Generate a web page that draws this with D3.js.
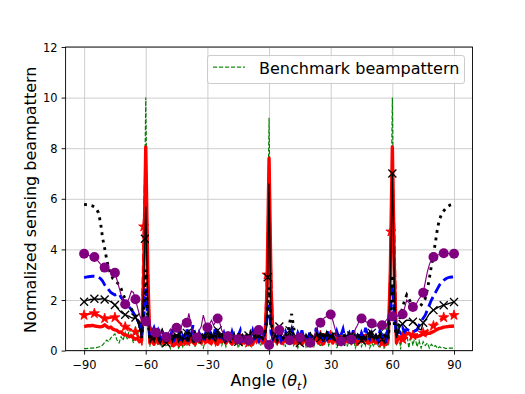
<!DOCTYPE html>
<html>
<head>
<meta charset="utf-8">
<script src="https://cdn.jsdelivr.net/npm/d3@7"></script>
<style>
  body { margin: 0; background: #fff; }
  svg { display: block; font-family: "DejaVu Sans", sans-serif; }
</style>
</head>
<body>
<svg width="525" height="394"></svg>
<script>
// angle grid, one point per degree
const angles = d3.range(-90, 91, 1)

// green dashed - benchmark
const benchmark = [
  0.08,0.08,0.09,0.1,0.1,0.11,0.12,0.14,0.16,0.22,
  0.32,0.42,0.35,0.5,0.58,0.66,0.42,0.3,0.55,0.4,
  0.72,0.45,0.85,0.6,0.3,0.95,0.5,1.15,0.2,3.2,
  10.0,3.2,0.15,0.9,0.3,0.6,0.2,0.5,0.1,0.35,
  0.15,0.3,0.08,0.4,0.2,0.3,0.1,0.35,0.15,0.5,
  0.2,0.6,0.3,0.45,0.15,0.5,0.25,0.3,0.1,0.4,
  0.3,0.55,0.2,0.6,0.35,0.3,0.5,0.2,0.45,0.15,
  0.4,0.3,0.6,0.25,0.5,0.1,0.35,0.2,0.5,0.3,
  0.2,0.45,0.15,0.5,0.3,0.6,0.2,0.7,0.3,2.8,
  9.2,2.8,0.3,0.7,0.2,0.6,0.3,0.5,0.15,0.45,
  0.3,0.55,0.2,0.4,0.1,0.35,0.25,0.5,0.15,0.4,
  0.3,0.6,0.2,0.45,0.35,0.15,0.5,0.3,0.6,0.2,
  0.4,0.25,0.55,0.1,0.35,0.2,0.5,0.3,0.15,0.4,
  0.2,0.5,0.1,0.35,0.3,0.15,0.45,0.2,0.55,0.1,
  0.3,0.15,0.6,0.2,0.1,1.0,0.05,0.9,0.2,3.2,
  10.0,3.2,0.2,1.1,0.05,0.8,0.3,0.7,0.1,0.6,
  0.2,0.55,0.15,0.4,0.1,0.35,0.2,0.3,0.1,0.25,
  0.15,0.2,0.08,0.15,0.1,0.12,0.08,0.1,0.1,0.1,
  0.1
]

// thick red solid
const redSolid = [
  0.95,0.97,0.98,0.98,1.0,0.98,0.96,0.95,0.94,0.96,
  1.02,0.95,0.9,0.93,0.85,0.82,0.8,0.72,0.74,0.65,
  0.62,0.6,0.55,0.58,0.5,0.45,0.48,0.35,0.4,3.0,
  8.05,3.0,0.3,0.45,0.25,0.5,0.3,0.55,0.35,0.25,
  0.45,0.3,0.5,0.2,0.4,0.35,0.55,0.25,0.45,0.3,
  0.5,0.3,0.6,0.35,0.25,0.55,0.4,0.3,0.5,0.35,
  0.45,0.6,0.3,0.5,0.4,0.25,0.55,0.35,0.45,0.3,
  0.5,0.35,0.25,0.45,0.3,0.55,0.4,0.6,0.3,0.45,
  0.35,0.5,0.25,0.45,0.6,0.35,0.5,0.3,0.4,2.4,
  7.6,2.4,0.4,0.5,0.35,0.6,0.3,0.45,0.55,0.35,
  0.4,0.6,0.3,0.5,0.35,0.45,0.25,0.55,0.4,0.3,
  0.5,0.35,0.45,0.6,0.3,0.5,0.25,0.4,0.55,0.35,
  0.45,0.3,0.5,0.35,0.6,0.4,0.3,0.55,0.35,0.45,
  0.3,0.5,0.4,0.25,0.55,0.35,0.45,0.6,0.3,0.5,
  0.35,0.45,0.3,0.55,0.4,0.3,0.5,0.25,0.45,3.0,
  8.05,3.0,0.3,0.55,0.45,0.6,0.75,0.65,0.7,0.6,
  0.6,0.55,0.55,0.58,0.62,0.65,0.62,0.68,0.68,0.72,
  0.75,0.8,0.85,0.88,0.9,0.93,0.94,0.95,0.96,0.96,
  0.97
]

// red dashed with stars
const redDashed = [
  1.4,1.42,1.44,1.46,1.47,1.47,1.44,1.4,1.36,1.3,
  1.27,1.26,1.28,1.3,1.32,1.31,1.22,1.12,1.05,1.0,
  0.94,0.9,0.86,0.82,0.78,0.74,0.6,0.5,0.35,4.9,
  7.8,3.4,0.35,0.5,0.3,0.55,0.4,0.3,0.5,0.35,
  0.5,0.35,0.25,0.45,0.6,0.3,0.4,0.55,0.3,0.45,
  0.35,0.55,0.4,0.3,0.6,0.45,0.25,0.5,0.35,0.55,
  0.4,0.3,0.55,0.45,0.25,0.5,0.35,0.6,0.4,0.3,
  0.55,0.4,0.3,0.5,0.35,0.45,0.6,0.3,0.5,0.4,
  0.3,0.55,0.4,0.6,0.35,0.5,0.3,0.45,0.55,3.0,
  7.2,3.0,0.45,0.35,0.55,0.4,0.6,0.3,0.5,0.4,
  0.55,0.35,0.45,0.3,0.6,0.4,0.5,0.35,0.55,0.45,
  0.3,0.5,0.4,0.55,0.35,0.6,0.45,0.3,0.5,0.4,
  0.6,0.35,0.45,0.55,0.3,0.5,0.4,0.6,0.45,0.35,
  0.5,0.4,0.6,0.3,0.45,0.55,0.35,0.5,0.4,0.3,
  0.45,0.55,0.35,0.5,0.4,0.3,0.55,0.45,0.35,3.4,
  7.8,4.6,0.4,0.5,0.55,0.45,0.6,0.5,0.55,0.6,
  0.6,0.62,0.62,0.65,0.68,0.7,0.75,0.8,0.86,0.92,
  0.98,1.05,1.12,1.2,1.26,1.31,1.34,1.36,1.38,1.39,
  1.4
]
const starAngles = [-90,-85,-80,-75,-70,-65,-61,-55,-50,-45,-40,-35,-30,-25,-20,-15,-10,-5,-1,
  5,10,15,20,25,30,35,40,45,50,55,59.3,65,70,75,80,85,90]
const starValues = [1.4,1.47,1.27,1.31,0.94,0.74,4.9,0.55,0.5,0.3,0.35,0.45,0.4,0.5,0.55,0.45,0.3,0.5,3.0,
  0.4,0.55,0.4,0.3,0.6,0.6,0.5,0.5,0.55,0.45,0.3,4.7,0.45,0.6,0.7,0.98,1.31,1.4]

// blue thick dashed
const blueDashed = [
  2.88,2.9,2.92,2.93,2.94,2.94,2.93,2.9,2.85,2.75,
  2.6,2.5,2.4,2.3,2.25,2.2,2.22,2.25,2.1,2.0,
  1.92,1.82,1.72,1.62,1.5,1.35,1.2,1.05,0.6,1.2,
  2.45,1.2,0.5,0.7,0.9,0.6,0.8,0.5,0.75,0.6,
  0.6,0.4,0.55,0.85,0.45,0.6,0.8,0.35,0.6,0.5,
  0.85,0.45,0.55,1.0,0.5,0.4,0.7,0.5,0.35,0.65,
  0.5,0.8,0.4,0.55,0.95,0.45,0.6,0.5,0.7,0.4,
  0.55,0.45,0.75,0.5,0.35,0.6,0.8,0.4,0.5,0.7,
  0.45,0.55,0.8,0.5,0.6,0.4,0.75,0.5,0.85,1.3,
  1.8,0.7,0.45,0.6,0.5,0.8,0.4,0.55,0.75,0.5,
  0.6,0.85,0.5,0.4,0.7,0.5,0.8,0.45,0.55,0.5,
  0.75,0.4,0.55,0.9,0.5,0.6,0.45,0.7,0.5,0.8,
  0.5,0.55,0.4,0.75,0.5,0.6,0.85,0.45,0.55,0.7,
  0.45,0.8,0.5,0.6,0.4,0.7,0.5,0.9,0.55,0.45,
  0.7,0.5,0.6,0.4,0.8,0.55,0.6,0.45,1.0,1.6,
  2.6,1.4,0.6,0.8,0.7,0.9,0.75,0.85,0.8,0.75,
  0.74,0.78,0.82,1.0,1.15,1.28,1.4,1.6,1.8,2.0,
  2.15,2.3,2.45,2.6,2.7,2.78,2.84,2.88,2.9,2.91,
  2.92
]

// black dotted
const blackDotted = [
  5.78,5.77,5.76,5.74,5.72,5.68,5.6,5.45,5.05,4.45,
  4.05,3.6,3.25,3.02,2.85,2.78,2.7,2.6,2.45,2.22,
  2.05,1.92,1.8,1.65,1.5,1.38,1.25,1.07,0.5,1.5,
  3.2,1.2,0.4,0.6,0.45,0.7,0.4,0.55,0.75,0.45,
  0.6,0.4,0.65,0.5,0.7,0.45,0.55,0.8,0.45,0.6,
  0.45,0.7,0.55,0.4,0.65,0.5,0.6,0.75,0.45,0.55,
  0.65,0.5,0.4,0.7,0.55,0.45,0.6,0.5,0.75,0.5,
  0.6,0.4,0.65,0.5,0.55,0.7,0.45,0.6,0.5,0.6,
  0.4,0.7,0.5,0.6,0.45,0.65,0.55,0.5,0.7,1.2,
  2.5,1.2,0.5,0.65,0.4,0.6,0.7,0.5,0.65,0.55,
  1.1,1.45,0.9,0.5,0.65,0.45,0.6,0.7,0.5,0.55,
  0.65,0.45,0.55,0.7,0.5,0.65,0.5,0.75,0.45,0.6,
  0.7,0.5,0.55,0.65,0.45,0.6,0.5,0.7,0.5,0.6,
  0.45,0.65,0.55,0.5,0.7,0.5,0.6,0.45,0.6,0.7,
  0.5,0.65,0.55,0.45,0.65,0.5,0.6,0.7,0.5,1.4,
  3.0,1.0,0.6,1.0,1.4,1.7,2.0,2.2,2.05,1.9,
  1.8,1.75,1.72,1.73,1.8,1.92,2.05,2.4,2.85,3.35,
  3.8,4.3,4.85,5.2,5.4,5.52,5.62,5.7,5.75,5.77,
  5.78
]

// black solid with x markers
const blackSolid = [
  1.93,1.97,2.0,2.02,2.03,2.05,2.04,2.03,2.04,2.05,
  2.02,2.0,1.97,1.93,1.87,1.8,1.7,1.6,1.52,1.46,
  1.42,1.38,1.35,1.3,1.28,1.31,1.15,0.9,0.5,2.5,
  5.7,1.8,0.3,0.5,0.35,0.7,0.45,0.25,0.5,0.35,
  0.3,0.45,0.6,0.35,0.65,0.6,0.35,0.55,0.4,0.7,
  0.7,0.4,0.65,0.45,0.75,0.45,0.55,0.4,0.6,0.45,
  0.75,0.4,0.7,0.5,0.35,0.8,0.5,0.65,0.4,0.55,
  0.45,0.6,0.45,0.7,0.4,0.35,0.5,0.65,0.45,0.6,
  0.6,0.65,0.4,0.55,0.7,0.6,0.55,0.45,0.6,1.0,
  6.6,1.0,0.4,0.65,0.5,0.95,0.55,0.45,0.7,0.5,
  0.8,0.45,0.7,0.5,0.35,0.3,0.55,0.4,0.65,0.5,
  0.4,0.6,0.45,0.7,0.5,0.5,0.65,0.45,0.75,0.55,
  0.55,0.7,0.45,0.35,0.55,0.35,0.5,0.65,0.45,0.7,
  0.6,0.55,0.4,0.65,0.5,0.4,0.6,0.45,0.7,0.45,
  0.7,0.4,0.65,0.5,0.6,0.45,0.3,0.6,0.5,2.5,
  7.0,2.5,0.5,0.8,1.0,1.05,1.15,1.2,1.2,1.18,
  1.14,1.1,1.0,0.85,0.82,1.1,1.2,1.32,1.45,1.55,
  1.6,1.65,1.7,1.74,1.77,1.79,1.82,1.85,1.88,1.9,
  1.92
]
const crossAngles = [-90,-85,-80,-75,-70,-65,-60.4,-55,-50,-45,-40,-35,-30,-25,-20,-15,-10,-5,-0.66,
  5,10,15,20,25,30,35,40,45,50,55,60,65,70,75,80,85,90]
const crossValues = [1.93,2.05,2.02,1.8,1.42,1.31,4.42,0.7,0.3,0.6,0.7,0.45,0.75,0.8,0.45,0.35,0.6,0.6,2.9,
  0.95,0.8,0.3,0.4,0.5,0.55,0.35,0.6,0.4,0.7,0.45,7.0,1.05,1.14,1.1,1.6,1.79,1.92]

// purple thin line with circles every 5 degrees
const purple = [
  3.83,3.8,3.77,3.74,3.72,3.7,3.62,3.52,3.42,3.35,
  3.28,3.24,3.2,3.16,3.12,3.08,2.8,2.5,2.2,1.95,
  1.83,1.9,2.1,2.35,2.3,2.03,1.7,1.4,1.2,1.15,
  1.16,0.95,1.1,0.8,0.9,0.71,0.8,0.6,0.75,0.65,
  0.54,0.7,0.85,0.65,0.8,0.9,1.0,0.8,1.15,0.95,
  1.1,1.47,1.0,0.7,0.6,0.52,0.8,0.95,1.4,1.1,
  0.91,1.05,1.2,1.0,1.15,1.27,1.1,0.8,0.65,0.7,
  0.57,0.65,0.55,0.6,0.5,0.45,0.55,0.5,0.6,0.45,
  0.41,0.55,0.7,0.65,0.75,0.81,0.7,0.6,0.5,0.4,
  0.22,0.45,0.6,0.75,0.7,0.81,0.7,0.6,0.55,0.5,
  0.41,0.5,0.6,0.55,0.65,0.52,0.45,0.5,0.4,0.35,
  0.31,0.45,0.6,0.85,1.0,1.1,1.2,1.3,1.35,1.4,
  1.43,1.2,0.9,0.6,0.45,0.37,0.45,0.5,0.55,0.5,
  0.44,0.6,0.85,1.0,1.2,1.27,1.2,1.15,1.1,1.1,
  1.07,1.0,0.95,1.05,1.0,1.0,1.1,1.2,1.3,1.35,
  1.36,1.3,1.35,1.4,1.45,1.44,1.7,2.0,1.9,1.8,
  1.72,1.8,1.9,2.05,2.15,2.29,2.7,3.1,3.4,3.6,
  3.7,3.75,3.78,3.8,3.83,3.85,3.85,3.84,3.84,3.83,
  3.83
]

const xTicks = [-90, -60, -30, 0, 30, 60, 90]
const yTicks = [0, 2, 4, 6, 8, 10, 12]

const svg = d3.select("svg")
const m = { left: 65.6, right: 472.5, top: 47, bottom: 350.6 }

const x = d3.scaleLinear().domain([-99, 99]).range([m.left, m.right])
const y = d3.scaleLinear().domain([0, 12]).range([m.bottom, m.top])

svg.append("defs").append("clipPath").attr("id", "plotclip")
  .append("rect")
  .attr("x", m.left).attr("y", m.top)
  .attr("width", m.right - m.left).attr("height", m.bottom - m.top)

// grid
svg.append("g")
  .attr("transform", "translate(0," + m.bottom + ")")
  .call(d3.axisBottom(x).tickValues(xTicks).tickSize(-(m.bottom - m.top)).tickFormat(""))
  .call(g => g.select(".domain").remove())
  .selectAll("line").attr("stroke", "#c8c8c8").attr("stroke-width", 0.9)
svg.append("g")
  .attr("transform", "translate(" + m.left + ",0)")
  .call(d3.axisLeft(y).tickValues(yTicks).tickSize(-(m.right - m.left)).tickFormat(""))
  .call(g => g.select(".domain").remove())
  .selectAll("line").attr("stroke", "#c8c8c8").attr("stroke-width", 0.9)

const plot = svg.append("g").attr("clip-path", "url(#plotclip)")

function curve(values) {
  return d3.line()
    .x((d, i) => x(angles[i]))
    .y(d => y(d))(values)
}

// benchmark at the bottom
plot.append("path").attr("d", curve(benchmark))
  .attr("fill", "none").attr("stroke", "green")
  .attr("stroke-width", 1.14).attr("stroke-dasharray", "4.2,1.8")

// red dashed + stars
plot.append("path").attr("d", curve(redDashed))
  .attr("fill", "none").attr("stroke", "red")
  .attr("stroke-width", 2.2).attr("stroke-dasharray", "8,3.5")

const star = d3.symbol().type(d3.symbolStar).size(32)
plot.selectAll(".star")
  .data(starAngles)
  .enter()
  .append("path")
  .attr("d", star)
  .attr("transform", (d, i) => "translate(" + x(d) + "," + y(starValues[i]) + ")")
  .attr("fill", "red")
  .attr("stroke", "red")
  .attr("stroke-width", 0.8)

// red thick solid
plot.append("path").attr("d", curve(redSolid))
  .attr("fill", "none").attr("stroke", "red")
  .attr("stroke-width", 3.4).attr("stroke-linejoin", "round")

// blue thick dashed
plot.append("path").attr("d", curve(blueDashed))
  .attr("fill", "none").attr("stroke", "blue")
  .attr("stroke-width", 2.85).attr("stroke-dasharray", "10.5,4.6")

// black dotted
plot.append("path").attr("d", curve(blackDotted))
  .attr("fill", "none").attr("stroke", "black")
  .attr("stroke-width", 2.85).attr("stroke-dasharray", "2.85,4.7")

// black solid + x
plot.append("path").attr("d", curve(blackSolid))
  .attr("fill", "none").attr("stroke", "black")
  .attr("stroke-width", 1.3)

plot.selectAll(".cross")
  .data(crossAngles)
  .enter()
  .append("path")
  .attr("d", "M-4,-4L4,4M-4,4L4,-4")
  .attr("transform", (d, i) => "translate(" + x(d) + "," + y(crossValues[i]) + ")")
  .attr("stroke", "black")
  .attr("stroke-width", 1.3)
  .attr("fill", "none")

// purple + circles
plot.append("path").attr("d", curve(purple))
  .attr("fill", "none").attr("stroke", "purple")
  .attr("stroke-width", 1.14)

plot.selectAll(".dot")
  .data(purple.filter((d, i) => i % 5 === 0))
  .enter()
  .append("circle")
  .attr("cx", (d, i) => x(angles[i * 5]))
  .attr("cy", d => y(d))
  .attr("r", 5)
  .attr("fill", "purple")

// axes
const xAxis = svg.append("g")
  .attr("transform", "translate(0," + m.bottom + ")")
  .call(d3.axisBottom(x).tickValues(xTicks).tickSize(4).tickPadding(4)
    .tickFormat(d => d < 0 ? "\u2212" + (-d) : d))
xAxis.select(".domain").remove()
xAxis.selectAll("line").attr("stroke", "black").attr("stroke-width", 0.9)
xAxis.selectAll("text").attr("dy", "0.91em")
  .attr("font-size", 11.4).attr("font-family", "DejaVu Sans").attr("fill", "black")

const yAxis = svg.append("g")
  .attr("transform", "translate(" + m.left + ",0)")
  .call(d3.axisLeft(y).tickValues(yTicks).tickSize(4).tickPadding(4))
yAxis.select(".domain").remove()
yAxis.selectAll("line").attr("stroke", "black").attr("stroke-width", 0.9)
yAxis.selectAll("text").attr("dy", "0.36em")
  .attr("font-size", 11.4).attr("font-family", "DejaVu Sans").attr("fill", "black")

// spines
svg.append("rect")
  .attr("x", m.left).attr("y", m.top)
  .attr("width", m.right - m.left).attr("height", m.bottom - m.top)
  .attr("fill", "none").attr("stroke", "black").attr("stroke-width", 0.9)

// labels
const xl = svg.append("text")
  .attr("x", (m.left + m.right) / 2).attr("y", 386)
  .attr("text-anchor", "middle").attr("font-size", 16)
xl.append("tspan").text("Angle (")
xl.append("tspan").attr("font-style", "italic").text("θ")
xl.append("tspan").attr("font-style", "italic").attr("font-size", 11.2).attr("dy", 3.5).text("t")
xl.append("tspan").attr("dy", -3.5).text(")")

svg.append("text")
  .attr("transform", "translate(36," + ((m.top + m.bottom) / 2 + 1) + ") rotate(-90)")
  .attr("text-anchor", "middle").attr("font-size", 16)
  .text("Normalized sensing beampattern")

// legend
const legend = svg.append("g")
legend.append("rect")
  .attr("x", 207.5).attr("y", 55.5).attr("width", 257).attr("height", 28).attr("rx", 2.5)
  .attr("fill", "white").attr("fill-opacity", 0.8)
  .attr("stroke", "#cccccc").attr("stroke-width", 1)
legend.append("line")
  .attr("x1", 213).attr("x2", 245).attr("y1", 67.2).attr("y2", 67.2)
  .attr("stroke", "#1a8a1a").attr("stroke-width", 1.2).attr("stroke-dasharray", "4.2,1.8")
legend.append("text")
  .attr("x", 259).attr("y", 73.5).attr("font-size", 16)
  .text("Benchmark beampattern")
</script>
</body>
</html>
